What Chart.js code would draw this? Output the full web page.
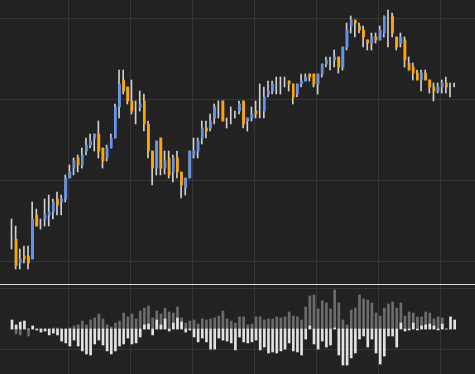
<!DOCTYPE html>
<html>
<head>
<meta charset="utf-8">
<script src="https://cdn.jsdelivr.net/npm/chart.js@4.4.1/dist/chart.umd.min.js"></script>
<style>
  html, body { margin: 0; padding: 0; background: #222222; }
  #wrap { width: 475px; height: 374px; position: relative; overflow: hidden; background: #222222; }
  canvas { display: block; }
  #sep { height: 1px; background: #d8d8d8; width: 475px; }
</style>
</head>
<body>
<div id="wrap">
  <canvas id="top" width="475" height="284"></canvas>
  <div id="sep"></div>
  <canvas id="bot" width="475" height="89"></canvas>
</div>
<script>
// ---- data ----
const openP = [103.33,102.84,99.88,100.74,100.74,100.37,105.80,104.69,105.31,105.80,106.17,107.78,107.41,107.78,110.37,111.60,112.84,111.98,113.70,114.44,115.31,115.80,114.07,112.84,114.07,115.31,119.14,122.47,121.60,119.88,118.64,119.14,119.88,117.04,113.70,111.60,115.31,111.60,112.84,111.11,112.84,111.11,109.14,110.37,113.21,113.70,115.31,116.54,116.54,117.78,119.01,119.88,117.16,118.15,118.27,118.64,119.88,117.41,117.78,118.64,120.00,118.64,120.74,121.11,121.85,121.85,122.22,122.35,121.98,120.74,121.98,122.35,123.21,123.21,121.98,123.21,124.44,124.44,124.94,125.31,124.07,126.54,129.14,129.88,129.14,128.64,127.41,127.04,127.78,127.41,128.27,128.89,130.37,127.78,127.04,127.41,124.57,124.07,123.33,122.47,123.33,122.47,121.60,121.11,121.60,122.10,121.48,121.85];
const closeP = [103.33,99.54,100.37,100.37,99.88,105.31,104.44,104.69,105.80,106.17,107.41,107.04,107.78,110.37,111.11,112.47,111.98,113.21,114.44,114.94,115.80,113.70,112.47,114.07,115.31,119.14,121.98,121.11,119.88,118.64,118.64,119.51,117.04,113.70,111.60,114.94,111.60,112.47,110.74,112.84,111.11,109.51,110.37,113.70,113.70,114.94,116.54,116.17,117.41,119.14,119.01,117.41,117.16,118.15,118.27,119.51,117.04,117.78,118.27,118.27,120.00,120.37,121.11,121.98,121.85,121.85,122.22,121.98,120.37,121.98,122.35,122.84,122.84,121.98,123.21,124.44,124.94,124.44,125.31,124.07,126.54,128.64,129.88,129.51,128.64,127.78,127.04,127.78,127.41,128.64,130.37,128.89,128.27,126.54,127.78,124.94,123.70,123.33,122.47,123.33,122.47,121.60,121.11,121.60,122.10,121.60,121.48,121.85];
const highP = [105.31,104.44,101.60,101.98,101.98,107.41,106.54,105.31,107.78,108.27,107.78,108.64,108.27,110.74,111.98,112.84,113.21,114.07,115.31,115.80,115.80,117.41,114.07,114.44,115.80,119.51,123.70,123.70,121.60,122.47,119.88,121.11,120.74,117.41,113.70,114.94,115.31,113.70,113.70,113.21,113.70,111.11,110.37,113.70,115.31,115.31,117.41,117.41,118.27,119.51,119.88,119.88,117.78,119.14,118.64,119.88,119.88,117.78,119.14,119.88,121.98,121.60,122.35,122.35,122.84,122.84,122.84,122.35,121.98,121.98,123.21,123.21,123.21,123.21,123.21,124.44,125.31,125.31,126.17,125.31,126.54,129.51,130.37,129.88,129.51,129.14,127.41,128.27,128.27,129.14,130.37,131.11,130.74,127.78,128.27,127.78,125.31,124.57,123.70,123.70,123.70,122.47,122.10,122.10,122.47,122.84,122.10,122.10];
const lowP = [101.60,99.14,99.14,99.88,99.14,100.37,104.44,104.07,104.44,104.44,105.31,105.80,105.80,107.41,110.37,110.74,111.11,111.60,113.21,114.07,113.70,112.84,111.60,112.47,114.07,115.31,117.78,120.74,119.51,118.27,117.04,118.64,116.17,112.84,109.51,110.74,110.74,110.86,110.37,109.88,110.37,107.90,108.27,110.37,112.84,112.84,114.57,115.31,116.17,117.04,117.78,117.41,116.54,117.04,117.78,118.27,116.54,116.17,117.41,117.78,117.78,117.78,120.37,120.74,120.74,120.74,121.60,121.11,119.51,120.37,121.60,122.35,122.35,121.60,120.74,122.84,124.07,123.70,124.07,123.33,123.70,126.17,128.27,127.78,128.27,126.54,126.17,126.17,127.04,127.41,127.78,126.54,127.78,126.17,126.54,124.07,123.70,122.47,122.47,121.11,122.47,120.86,119.88,120.86,120.86,120.86,120.37,121.60];
const grayOsc = [0,-2.4,-2.9,0,-3.4,0,0,0,0,0,0.5,0.5,0,0,0.5,1.5,2.0,3.9,2.0,4.4,5.4,7.3,4.9,2.0,1.0,2.9,3.9,7.8,5.9,7.3,4.9,8.8,10.2,11.2,5.4,8.8,7.3,10.2,8.3,7.8,10.7,5.4,2.9,3.9,4.4,2.4,4.9,4.4,4.9,5.4,6.3,8.8,4.9,3.9,2.9,5.9,5.9,2.0,2.4,5.9,5.9,4.4,4.9,4.9,5.9,5.4,5.9,8.3,6.3,5.9,4.4,10.7,16.1,16.6,9.8,13.7,12.7,9.8,19.0,12.7,4.4,2.0,9.3,10.2,16.6,14.6,14.1,12.7,7.8,6.3,10.2,12.2,13.2,10.2,12.7,6.3,8.3,7.8,5.9,5.9,8.3,7.8,4.9,5.9,5.4,0,0,0];
const whiteOsc = [4.4,2.0,3.4,3.9,0,1.5,-0.5,-1.5,-1.0,-2.9,-2.0,-2.9,-5.9,-6.8,-8.3,-5.4,-8.3,-10.7,-12.2,-12.7,-7.3,-5.4,-7.8,-10.7,-12.2,-10.7,-8.3,-7.3,-4.4,-7.3,-6.8,-3.9,2.0,2.4,-2.9,4.4,2.0,4.9,-1.0,2.9,5.4,3.4,-1.5,-0.5,-3.9,-6.3,-4.4,-6.3,-9.8,-9.8,-4.4,-5.4,-5.9,-6.8,-10.2,-3.9,-6.3,-6.8,-6.3,-5.4,-10.2,-8.8,-11.7,-11.2,-11.7,-10.7,-9.8,-6.8,-10.7,-11.2,-12.7,-4.9,1.5,-7.3,-9.8,-5.9,-8.8,-7.8,0.5,-12.7,-17.6,-17.6,-14.1,-11.7,-4.9,-3.4,-8.8,-4.9,-11.7,-17.1,-13.2,-3.4,-3.4,-8.8,2.9,-1.0,-0.5,2.9,-0.5,1.5,2.0,2.4,1.5,-0.5,2.4,0,5.9,4.4];
const timeTicks = [15, 30, 45, 60, 75, 90, 105];
const priceTicks = [100, 110, 120, 130];
const oscTicks = [-10, 20];

// ---- styling ----
const BLUE = '#6494ea', ORANGE = '#ffa500', WICK = '#cfcfcf';
const GRID = '#363636', OSC_GRAY = '#6c6c6c', OSC_WHITE = '#e2e2e2';
const X_SHIFT = 1.3, BODY_SHIFT = 0.12;
const X_MIN = -1.478, X_MAX = X_MIN + 475 / 4.137;

const xScale = () => ({
  type: 'linear', min: X_MIN, max: X_MAX, offset: false,
  afterBuildTicks: s => { s.ticks = timeTicks.map(v => ({ value: v })); },
  ticks: { display: false },
  grid: { color: GRID, drawTicks: false, lineWidth: 1, offset: false },
  border: { display: false }
});

const wicks = lowP.map((l, i) => ({ x: i + X_SHIFT, y: [l, highP[i]] }));
const bodies = openP.map((o, i) => ({ x: i + X_SHIFT + BODY_SHIFT, y: [o, closeP[i]], up: closeP[i] > o }))
  .filter((d, i) => openP[i] !== closeP[i]);

new Chart(document.getElementById('top'), {
  type: 'bar',
  data: {
    datasets: [
      { data: bodies, barThickness: 2, grouped: false,
        backgroundColor: ctx => (ctx.raw && ctx.raw.up) ? BLUE : ORANGE, borderWidth: 0 },
      { data: wicks, barThickness: 1, grouped: false, backgroundColor: WICK, borderWidth: 0 }
    ]
  },
  options: {
    responsive: false, animation: false, events: [],
    layout: { padding: 0 },
    plugins: { legend: { display: false }, tooltip: { enabled: false } },
    scales: {
      x: xScale(),
      y: {
        type: 'linear', min: 100 - 22 / 8.1, max: 100 + 262 / 8.1,
        afterBuildTicks: s => { s.ticks = priceTicks.map(v => ({ value: v })); },
        ticks: { display: false },
        grid: { color: GRID, drawTicks: false },
        border: { display: false }
      }
    }
  }
});

const oscX = i => i + X_SHIFT + BODY_SHIFT;
new Chart(document.getElementById('bot'), {
  type: 'bar',
  data: {
    datasets: [
      { data: whiteOsc.map((v, i) => ({ x: oscX(i), y: v })), barThickness: 2, grouped: false,
        backgroundColor: OSC_WHITE, borderWidth: 0 },
      { data: grayOsc.map((v, i) => ({ x: oscX(i), y: v })), barThickness: 2, grouped: false,
        backgroundColor: OSC_GRAY, borderWidth: 0 }
    ]
  },
  options: {
    responsive: false, animation: false, events: [],
    layout: { padding: 0 },
    plugins: { legend: { display: false }, tooltip: { enabled: false } },
    scales: {
      x: xScale(),
      y: {
        type: 'linear', min: -45 / 2.05, max: 44 / 2.05,
        afterBuildTicks: s => { s.ticks = oscTicks.map(v => ({ value: v })); },
        ticks: { display: false },
        grid: { color: GRID, drawTicks: false },
        border: { display: false }
      }
    }
  }
});
</script>
</body>
</html>
